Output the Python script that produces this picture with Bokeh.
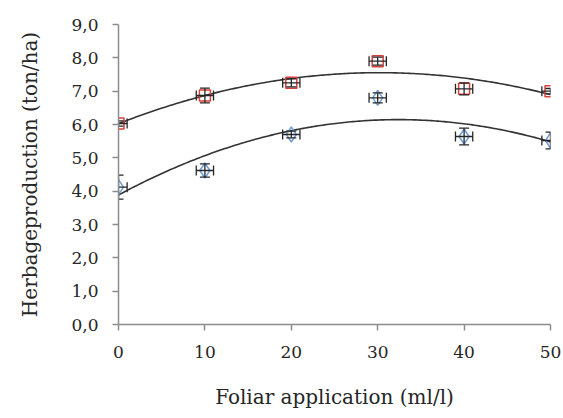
import numpy as np
from bokeh.plotting import figure
from bokeh.models import ColumnDataSource, FixedTicker, Range1d
from bokeh.embed import file_html
from bokeh.resources import INLINE

# data
foliar = [0, 10, 20, 30, 40, 50]
red_vals = [6.03, 6.87, 7.25, 7.90, 7.07, 7.00]
red_err = [0.08, 0.22, 0.12, 0.12, 0.18, 0.08]
blue_vals = [4.12, 4.62, 5.70, 6.80, 5.64, 5.52]
blue_err = [0.36, 0.20, 0.10, 0.15, 0.25, 0.25]
x_err = [1.0, 1.0, 1.0, 1.0, 1.0, 1.0]
y_ticks = [0, 1, 2, 3, 4, 5, 6, 7, 8, 9]
y_tick_labels = ["0,0", "1,0", "2,0", "3,0", "4,0", "5,0", "6,0", "7,0", "8,0", "9,0"]
x_ticks = [0, 10, 20, 30, 40, 50]

FONT = "DejaVu Serif"
TXT = "#262626"
AX = "#8c8c8c"
EB = "#262626"

p = figure(width=563, height=418, output_backend="svg", toolbar_location=None,
           x_range=Range1d(0, 50), y_range=Range1d(0, 9),
           min_border_left=118, min_border_right=13, min_border_top=24, min_border_bottom=94)
p.outline_line_color = None
p.xgrid.visible = False
p.ygrid.visible = False

p.xaxis.ticker = FixedTicker(ticks=x_ticks)
p.yaxis.ticker = FixedTicker(ticks=y_ticks)
p.yaxis.major_label_overrides = {t: l for t, l in zip(y_ticks, y_tick_labels)}
for ax in (p.xaxis, p.yaxis):
    ax.axis_line_color = AX
    ax.axis_line_width = 1.5
    ax.major_tick_line_color = AX
    ax.major_tick_line_width = 1.5
    ax.major_tick_in = 0
    ax.major_tick_out = 6
    ax.minor_tick_line_color = None
    ax.major_label_text_font = FONT
    ax.major_label_text_font_size = "17px"
    ax.major_label_text_color = TXT
    ax.axis_label_text_font = FONT
    ax.axis_label_text_font_size = "20px"
    ax.axis_label_text_font_style = "normal"
    ax.axis_label_text_color = TXT
p.xaxis.major_label_standoff = 15
p.yaxis.major_label_standoff = 14
p.xaxis.axis_label = "Foliar application (ml/l)"
p.yaxis.axis_label = "Herbageproduction (ton/ha)"
p.xaxis.axis_label_standoff = 24
p.yaxis.axis_label_standoff = 26

xs = np.linspace(0, 50, 200)
for vals in (red_vals, blue_vals):
    c = np.polyfit(foliar, vals, 2)
    p.line(xs, np.polyval(c, xs), line_color="#333333", line_width=1.6)

for vals, err, color, marker, size in ((red_vals, red_err, "#d9403a", "square", 11),
                                       (blue_vals, blue_err, "#6f9fd8", "diamond", 15)):
    v = np.array(vals); e = np.array(err); xe = np.array(x_err); xf = np.array(foliar, dtype=float)
    src = ColumnDataSource(dict(x=xf, y=v, ylo=v - e, yhi=v + e, xlo=xf - xe, xhi=xf + xe))
    p.scatter("x", "y", source=src, marker=marker, size=size, fill_color=None,
              line_color=color, line_width=1.5)
    # vertical bars + caps
    p.segment(x0="x", y0="ylo", x1="x", y1="yhi", source=src, line_color=EB, line_width=1.3)
    p.scatter("x", "ylo", source=src, marker="dash", size=10, line_color=EB, line_width=1.3)
    p.scatter("x", "yhi", source=src, marker="dash", size=10, line_color=EB, line_width=1.3)
    # horizontal bars + caps
    p.segment(x0="xlo", y0="y", x1="xhi", y1="y", source=src, line_color=EB, line_width=1.3)
    p.scatter("xlo", "y", source=src, marker="dash", angle=np.pi / 2, size=10, line_color=EB, line_width=1.3)
    p.scatter("xhi", "y", source=src, marker="dash", angle=np.pi / 2, size=10, line_color=EB, line_width=1.3)

open("out.html", "w").write(file_html(p, INLINE))
